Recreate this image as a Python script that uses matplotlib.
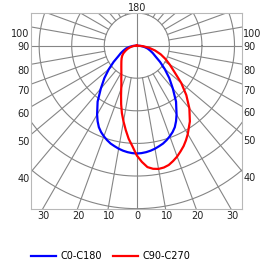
#!/usr/bin/env python3
"""Polar luminous intensity diagram (C0-C180 / C90-C270) on a rectangular frame."""

import numpy as np
import matplotlib.pyplot as plt

# gamma angle from nadir (deg) and intensity (one grid ring = 100)
gamma = [0, 2.5, 5, 7.5, 10, 12.5, 15, 17.5, 20, 22.5, 25, 27.5, 30,
         35, 40, 45, 50, 55, 60, 65, 70, 75, 80, 85, 90]
c0_c180 = [331, 330, 328, 325, 321, 316, 311, 304, 296, 287, 276, 261, 244,
           210, 172, 141, 112, 87, 66, 54, 43, 34, 23, 12, 0]
c90 = [337, 357, 374, 381, 384, 383, 379, 371, 362, 351, 340, 327, 313,
       284, 251, 215, 178, 141, 117, 97, 78, 58, 38, 18, 0]
c270 = [337, 309, 287, 261, 236, 212, 186, 161, 140, 124, 113, 103, 95,
        83, 74, 67, 61, 55, 48, 39, 31, 23, 15, 8, 0]

ring_radii = [100, 200, 300, 400, 500]
side_labels = ["100", "90", "80", "70", "60", "50", "40"]
side_angles = [100, 90, 80, 70, 60, 50, 40]
bottom_angles = [30, 20, 10, 0, 10, 20, 30]
bottom_signs = [-1, -1, -1, 0, 1, 1, 1]

GRID = "#858585"
PX = 100 / 32.6  # data units per pixel

XMIN, XMAX = -325, 323
YMIN, YMAX = -502, 100


def polar_curve(left, right):
    g = np.radians(gamma)
    left = np.asarray(left, float)
    right = np.asarray(right, float)
    xr, yr = right * np.sin(g), -right * np.cos(g)
    xl, yl = -left * np.sin(g), -left * np.cos(g)
    x = np.concatenate([xr[::-1], xl[1:]])
    y = np.concatenate([yr[::-1], yl[1:]])
    return x, y


def main() -> None:
    plt.rcParams["font.family"] = "DejaVu Sans"
    fig = plt.figure(figsize=(2.75, 2.66), dpi=100)
    ax = fig.add_axes([31 / 275, 1 - 209.3 / 266, 211 / 275, 196.3 / 266])

    # rings
    t = np.linspace(0, 2 * np.pi, 721)
    for r in ring_radii:
        ax.plot(r * np.cos(t), r * np.sin(t), color=GRID, lw=0.8, zorder=1)

    # spokes every 10 deg, main axes through the centre
    for a in range(0, 360, 10):
        r0 = 0 if a % 90 == 0 else ring_radii[0]
        d = np.radians(a)
        ax.plot([r0 * np.sin(d), 900 * np.sin(d)], [-r0 * np.cos(d), -900 * np.cos(d)],
                color=GRID, lw=0.8, zorder=1)

    bx, by = polar_curve(c0_c180, c0_c180)
    rx, ry = polar_curve(c270, c90)
    hb, = ax.plot(bx, by, color="#0000ff", lw=1.6, zorder=3, label="C0-C180",
                  solid_joinstyle="round")
    hr, = ax.plot(rx, ry, color="#ff0000", lw=1.6, zorder=4, label="C90-C270",
                  solid_joinstyle="round")

    ax.set_xlim(XMIN, XMAX)
    ax.set_ylim(YMIN, YMAX)
    ax.set_xticks([])
    ax.set_yticks([])
    for s in ax.spines.values():
        s.set_color("#b8b8b8")
        s.set_linewidth(0.8)

    fs = 7
    # angle labels on both sides
    for lab, a in zip(side_labels, side_angles):
        d = np.radians(a)
        off = 1.5 if a == 90 else 7.0
        yl = -abs(XMIN) * np.cos(d) / np.sin(d) - off * PX
        yr = -XMAX * np.cos(d) / np.sin(d) - off * PX
        ax.text(XMIN - 1.5 * PX, yl, lab, ha="right", va="center", fontsize=fs, color="#222222")
        ax.text(XMAX + 1.3 * PX, yr, lab, ha="left", va="center", fontsize=fs, color="#222222")

    # angle labels along the bottom
    for a, sgn in zip(bottom_angles, bottom_signs):
        xb = sgn * abs(YMIN) * np.tan(np.radians(a)) + 1 * PX
        ax.text(xb, YMIN - 6.4 * PX, str(a), ha="center", va="center", fontsize=fs, color="#222222")

    ax.text(0, YMAX + 4.7 * PX, "180", ha="center", va="center", fontsize=fs, color="#222222")

    fig.legend(handles=[hb, hr], loc="center left", bbox_to_anchor=(30.7 / 275, 1 - 256 / 266),
               ncol=2, frameon=False, fontsize=fs, handlelength=2.57, handletextpad=0.5,
               columnspacing=1.1, borderpad=0, borderaxespad=0)

    fig.savefig("out.png", dpi=100)
    plt.close(fig)


if __name__ == "__main__":
    main()
